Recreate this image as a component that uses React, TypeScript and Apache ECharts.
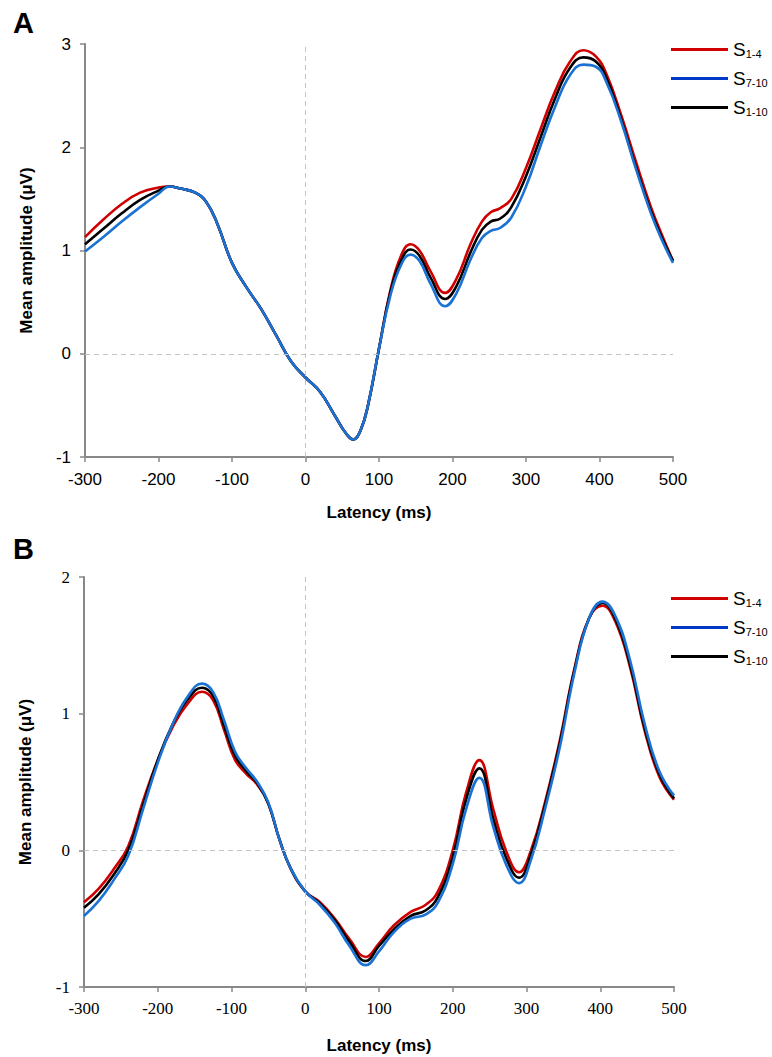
import React, { useEffect, useRef } from "react";
import * as echarts from "echarts";

// Panel A
const latencyA = [-300, -275, -250, -225, -200, -185, -170, -150, -135, -120, -100, -80, -60, -40, -20, 0, 20, 40, 55, 65, 75, 85, 100, 115, 130, 143, 155, 170, 190, 205, 225, 240, 252, 265, 280, 300, 320, 340, 360, 378, 395, 410, 430, 450, 470, 485, 500];
const s14A = [1.13, 1.3, 1.45, 1.56, 1.61, 1.62, 1.6, 1.56, 1.47, 1.26, 0.88, 0.64, 0.43, 0.18, -0.07, -0.23, -0.37, -0.6, -0.77, -0.83, -0.74, -0.5, 0.05, 0.6, 0.95, 1.06, 1.0, 0.8, 0.59, 0.72, 1.07, 1.28, 1.37, 1.41, 1.5, 1.8, 2.18, 2.55, 2.83, 2.94, 2.88, 2.7, 2.3, 1.85, 1.42, 1.15, 0.9];
const s110A = [1.06, 1.21, 1.36, 1.49, 1.58, 1.62, 1.6, 1.56, 1.47, 1.26, 0.88, 0.64, 0.43, 0.18, -0.07, -0.23, -0.37, -0.6, -0.77, -0.83, -0.74, -0.5, 0.05, 0.58, 0.9, 1.01, 0.95, 0.74, 0.53, 0.65, 0.99, 1.2, 1.28, 1.31, 1.42, 1.72, 2.1, 2.48, 2.77, 2.87, 2.83, 2.66, 2.26, 1.8, 1.38, 1.12, 0.9];
const s710A = [0.99, 1.13, 1.28, 1.42, 1.55, 1.62, 1.6, 1.56, 1.47, 1.26, 0.88, 0.64, 0.43, 0.18, -0.07, -0.23, -0.37, -0.6, -0.77, -0.83, -0.74, -0.5, 0.05, 0.55, 0.86, 0.96, 0.9, 0.68, 0.46, 0.58, 0.92, 1.12, 1.19, 1.22, 1.32, 1.62, 2.02, 2.4, 2.7, 2.8, 2.78, 2.62, 2.24, 1.78, 1.36, 1.1, 0.88];

// Panel B
const latencyB = [-300, -280, -260, -240, -220, -200, -180, -160, -140, -125, -110, -95, -80, -65, -50, -35, -20, 0, 20, 40, 60, 82, 100, 120, 143, 163, 180, 200, 218, 236, 255, 272, 290, 306, 325, 345, 365, 385, 403, 420, 440, 460, 480, 500];
const s14B = [-0.38, -0.28, -0.14, 0.03, 0.36, 0.66, 0.9, 1.07, 1.16, 1.1, 0.88, 0.66, 0.56, 0.48, 0.34, 0.08, -0.13, -0.3, -0.38, -0.5, -0.65, -0.78, -0.68, -0.55, -0.45, -0.4, -0.3, 0.0, 0.42, 0.66, 0.3, 0.0, -0.16, 0.0, 0.35, 0.8, 1.33, 1.7, 1.79, 1.68, 1.35, 0.88, 0.54, 0.37];
const s110B = [-0.42, -0.32, -0.18, 0.0, 0.33, 0.66, 0.92, 1.1, 1.19, 1.13, 0.91, 0.69, 0.58, 0.49, 0.34, 0.08, -0.13, -0.3, -0.39, -0.51, -0.67, -0.81, -0.7, -0.58, -0.48, -0.44, -0.34, -0.05, 0.37, 0.6, 0.23, -0.05, -0.2, -0.03, 0.33, 0.78, 1.32, 1.7, 1.81, 1.7, 1.37, 0.9, 0.56, 0.38];
const s710B = [-0.48, -0.37, -0.22, -0.04, 0.3, 0.64, 0.92, 1.12, 1.22, 1.16, 0.95, 0.72, 0.6, 0.5, 0.35, 0.08, -0.13, -0.3, -0.4, -0.53, -0.7, -0.84, -0.74, -0.6, -0.5, -0.47, -0.38, -0.1, 0.3, 0.53, 0.17, -0.1, -0.24, -0.07, 0.3, 0.75, 1.3, 1.7, 1.82, 1.72, 1.4, 0.93, 0.58, 0.4];

const xTicks = [-300, -200, -100, 0, 100, 200, 300, 400, 500];
const seriesNames = ["S1-4", "S7-10", "S1-10"];

const RED = "#d00000";
const BLUE_LINE = "#1a72d4";
const BLUE_LEGEND = "#0038c8";
const BLACK = "#000000";

const zip = (xs: number[], ys: number[]) => xs.map((x, i) => [x, ys[i]]);

const SANS = "'Liberation Sans', Arial, sans-serif";
const SERIF = "'Liberation Serif', 'Times New Roman', serif";

export default function App() {
  const ref = useRef<HTMLDivElement>(null);
  useEffect(() => {
    if (!ref.current) return;
    const chart = echarts.init(ref.current, undefined, { renderer: "svg" });

    const xAxisBase = (gridIndex: number, font: string, labelMargin: number, nameGap: number) => ({
      type: "value",
      gridIndex,
      min: xTicks[0],
      max: xTicks[xTicks.length - 1],
      interval: 100,
      name: "Latency (ms)",
      nameLocation: "middle",
      nameGap,
      nameTextStyle: { fontFamily: SANS, fontWeight: "bold", fontSize: 17, color: "#000" },
      axisLine: { show: true, onZero: false, lineStyle: { color: "#888", width: 2 } },
      axisTick: { show: true, length: 5, inside: false, lineStyle: { color: "#888", width: 1.5 } },
      axisLabel: { fontFamily: font, fontSize: 17, color: "#000", margin: labelMargin },
      splitLine: { show: false },
    });
    const yAxisBase = (gridIndex: number, max: number, font: string) => ({
      type: "value",
      gridIndex,
      min: -1,
      max,
      interval: 1,
      name: "Mean amplitude (μV)",
      nameLocation: "middle",
      nameGap: 50,
      nameTextStyle: { fontFamily: SANS, fontWeight: "bold", fontSize: 17, color: "#000" },
      axisLine: { show: true, onZero: false, lineStyle: { color: "#888", width: 2 } },
      axisTick: { show: true, length: 5, inside: false, lineStyle: { color: "#888", width: 1.5 } },
      axisLabel: { fontFamily: font, fontSize: 17, color: "#000", margin: 14 },
      splitLine: { show: false },
    });

    const markLine = {
      silent: true,
      symbol: "none",
      label: { show: false },
      lineStyle: { type: [5, 4], color: "#c4c4c4", width: 1 },
      data: [{ xAxis: 0 }, { yAxis: 0 }],
    };

    const mkSeries = (name: string, data: number[][], color: string, idx: number, withMark: boolean) => ({
      type: "line",
      name,
      xAxisIndex: idx,
      yAxisIndex: idx,
      data,
      smooth: 0.45,
      showSymbol: false,
      lineStyle: { color, width: 2.6 },
      itemStyle: { color },
      ...(withMark ? { markLine } : {}),
    });

    const legendBase = (top: number) => ({
      orient: "vertical",
      left: 671,
      top,
      padding: 0,
      itemWidth: 57,
      itemHeight: 3,
      itemGap: 10,
      icon: "rect",
      selectedMode: false,
      data: [
        { name: "S1-4", itemStyle: { color: RED } },
        { name: "S7-10", itemStyle: { color: BLUE_LEGEND } },
        { name: "S1-10", itemStyle: { color: BLACK } },
      ],
      formatter: (name: string) => `{m|S}{s|${name.slice(1)}}`,
      textStyle: {
        color: "#000",
        rich: {
          m: { fontFamily: SANS, fontSize: 19, color: "#000", height: 22 },
          s: { fontFamily: SANS, fontSize: 11, color: "#000", padding: [8, 0, 0, 0] },
        },
      },
    });

    chart.setOption({
      animation: false,
      backgroundColor: "#fff",
      grid: [
        { left: 85, top: 44, width: 588, height: 413, containLabel: false },
        { left: 84, top: 577, width: 590, height: 410, containLabel: false },
      ],
      xAxis: [xAxisBase(0, SANS, 14, 47), xAxisBase(1, SERIF, 13, 50)],
      yAxis: [yAxisBase(0, 3, SANS), yAxisBase(1, 2, SERIF)],
      legend: [legendBase(40), legendBase(589)],
      graphic: [
        { type: "text", left: 13, top: 8, style: { text: "A", font: `bold 29px ${SANS}`, fill: "#000" } },
        { type: "text", left: 13, top: 534, style: { text: "B", font: `bold 29px ${SANS}`, fill: "#000" } },
      ],
      series: [
        mkSeries(seriesNames[0], zip(latencyA, s14A), RED, 0, true),
        mkSeries(seriesNames[2], zip(latencyA, s110A), BLACK, 0, false),
        mkSeries(seriesNames[1], zip(latencyA, s710A), BLUE_LINE, 0, false),
        mkSeries(seriesNames[0], zip(latencyB, s14B), RED, 1, true),
        mkSeries(seriesNames[2], zip(latencyB, s110B), BLACK, 1, false),
        mkSeries(seriesNames[1], zip(latencyB, s710B), BLUE_LINE, 1, false),
      ],
    });
    return () => chart.dispose();
  }, []);
  return (
    <div
      ref={ref}
      style={{ position: "absolute", left: 0, top: 0, width: 772, height: 1057, background: "#fff" }}
    />
  );
}
